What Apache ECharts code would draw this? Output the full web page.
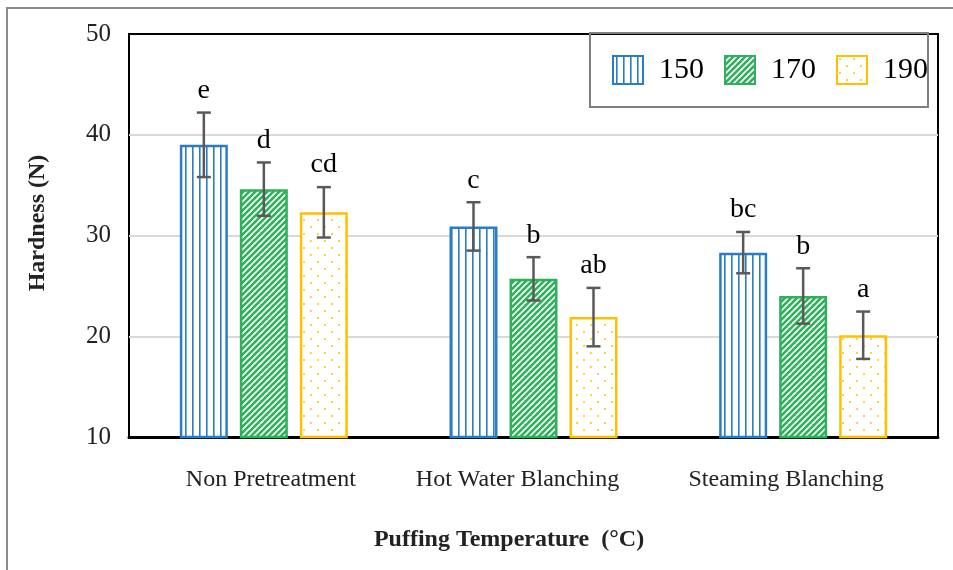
<!DOCTYPE html>
<html>
<head>
<meta charset="utf-8">
<script src="https://cdn.jsdelivr.net/npm/echarts@6/dist/echarts.min.js"></script>
<style>
    html, body { margin: 0; padding: 0; background: #fff; }
    #echarts { width: 953px; height: 570px; }
</style>
</head>
<body>
<div id="echarts"></div>
<script>
var categories = ['Non Pretreatment', 'Hot Water Blanching', 'Steaming Blanching'];
var temps = ['150', '170', '190'];
var hard150 = [39.0, 30.9, 28.3];
var hard170 = [34.6, 25.7, 24.0];
var hard190 = [32.3, 21.9, 20.1];
var err150 = [3.2, 2.4, 2.05];
var err170 = [2.65, 2.15, 2.75];
var err190 = [2.5, 2.9, 2.35];
var letters150 = ['e', 'c', 'bc'];
var letters170 = ['d', 'b', 'b'];
var letters190 = ['cd', 'ab', 'a'];
var yTicks = [10, 20, 30, 40, 50];

var serif = '"Liberation Serif", "Times New Roman", serif';
var blue = '#2a7cc7', green = '#2fb05c', yellow = '#ffc000';

// fill patterns
function stripesV() {
    var c = document.createElement('canvas');
    c.width = 7; c.height = 4;
    var g = c.getContext('2d');
    g.fillStyle = '#fff'; g.fillRect(0, 0, 7, 4);
    g.fillStyle = blue; g.fillRect(3, 0, 1.6, 4);
    return c;
}
function stripesDiag() {
    var c = document.createElement('canvas');
    c.width = 6; c.height = 6;
    var g = c.getContext('2d');
    g.fillStyle = green; g.fillRect(0, 0, 6, 6);
    g.strokeStyle = '#fff'; g.lineWidth = 1.6;
    g.beginPath();
    g.moveTo(-1, 1); g.lineTo(1, -1);
    g.moveTo(0, 6); g.lineTo(6, 0);
    g.moveTo(5, 7); g.lineTo(7, 5);
    g.stroke();
    return c;
}
function dots() {
    var c = document.createElement('canvas');
    c.width = 14; c.height = 14;
    var g = c.getContext('2d');
    g.fillStyle = '#fff'; g.fillRect(0, 0, 14, 14);
    g.fillStyle = yellow;
    g.beginPath(); g.arc(3, 3, 1, 0, Math.PI * 2); g.fill();
    g.beginPath(); g.arc(10, 10, 1, 0, Math.PI * 2); g.fill();
    return c;
}

function barSeries(name, vals, pattern, border) {
    return {
        name: name,
        type: 'bar',
        barWidth: 48,
        barGap: '25%',
        data: vals,
        itemStyle: {
            color: {image: pattern, repeat: 'repeat'},
            borderColor: border,
            borderWidth: 2.5
        }
    };
}

function errorSeries(name, idx, vals, errs, letters) {
    var data = vals.map(function (v, i) { return [i, v, errs[i]]; });
    return {
        name: name,
        type: 'custom',
        z: 10,
        silent: true,
        data: data,
        encode: {x: 0, y: 1},
        renderItem: function (params, api) {
            var c = api.value(0), v = api.value(1), e = api.value(2);
            var top = api.coord([c, v + e]);
            var bot = api.coord([c, v - e]);
            var x = top[0] + (idx - 1) * 60;
            var st = {stroke: '#595959', lineWidth: 2.5};
            return {
                type: 'group',
                children: [
                    {type: 'line', shape: {x1: x, y1: top[1], x2: x, y2: bot[1]}, style: st},
                    {type: 'line', shape: {x1: x - 7, y1: top[1], x2: x + 7, y2: top[1]}, style: st},
                    {type: 'line', shape: {x1: x - 7, y1: bot[1], x2: x + 7, y2: bot[1]}, style: st},
                    {type: 'text', style: {
                        text: letters[params.dataIndex], x: x, y: top[1] - 8,
                        align: 'center', verticalAlign: 'bottom',
                        font: '28px ' + serif, fill: '#000'
                    }}
                ]
            };
        }
    };
}

var myChart = echarts.init(document.getElementById('echarts'));

var option = {
    backgroundColor: '#fff',
    animation: false,
    graphic: [
        {type: 'rect', shape: {x: 7, y: 8, width: 1000, height: 600},
            style: {fill: 'none', stroke: '#8c8c8c', lineWidth: 2}},
        {type: 'text', x: 509, y: 540, style: {
            text: 'Puffing Temperature  (\u00b0C)', font: 'bold 24px ' + serif,
            fill: '#222', align: 'center', verticalAlign: 'middle'}},
        {type: 'text', x: 38, y: 223, rotation: Math.PI / 2, style: {
            text: 'Hardness (N)', font: 'bold 24px ' + serif,
            fill: '#222', align: 'center', verticalAlign: 'middle'}}
    ],
    legend: {
        data: temps,
        left: 590,
        top: 33,
        padding: [22, 0, 22, 22],
        itemWidth: 30,
        itemHeight: 28,
        itemGap: 20,
        borderColor: '#7f7f7f',
        borderWidth: 2,
        icon: 'rect',
        textStyle: {fontFamily: serif, fontSize: 30, color: '#000', padding: [0, 0, 0, 11]}
    },
    grid: {
        left: 129,
        right: 15,
        top: 34,
        bottom: 133,
        show: true,
        borderColor: '#000',
        borderWidth: 2
    },
    xAxis: {
        type: 'category',
        data: categories,
        axisLine: {lineStyle: {color: '#000', width: 3}},
        axisTick: {show: false},
        axisLabel: {
            interval: 0,
            hideOverlap: false,
            fontFamily: serif, fontSize: 24, color: '#222', margin: 31,
            // labels sit a little off the group centres in the original
            formatter: function (v, i) { return '{c' + i + '|' + v + '}'; },
            rich: {
                c0: {fontFamily: serif, fontSize: 24, color: '#222', padding: [0, 0, 0, 14]},
                c1: {fontFamily: serif, fontSize: 24, color: '#222', padding: [0, 32, 0, 0]},
                c2: {fontFamily: serif, fontSize: 24, color: '#222', padding: [0, 34, 0, 0]}
            }
        }
    },
    yAxis: {
        type: 'value',
        min: yTicks[0],
        max: yTicks[yTicks.length - 1],
        interval: 10,
        axisLine: {show: false},
        axisTick: {show: false},
        axisLabel: {fontFamily: serif, fontSize: 25, color: '#222', margin: 18},
        splitLine: {showMinLine: false, showMaxLine: false, lineStyle: {color: '#d9d9d9', width: 2}}
    },
    series: [
        barSeries(temps[0], hard150, stripesV(), blue),
        barSeries(temps[1], hard170, stripesDiag(), green),
        barSeries(temps[2], hard190, dots(), yellow),
        errorSeries('e150', 0, hard150, err150, letters150),
        errorSeries('e170', 1, hard170, err170, letters170),
        errorSeries('e190', 2, hard190, err190, letters190)
    ]
};
myChart.setOption(option);
</script>
</body>
</html>
